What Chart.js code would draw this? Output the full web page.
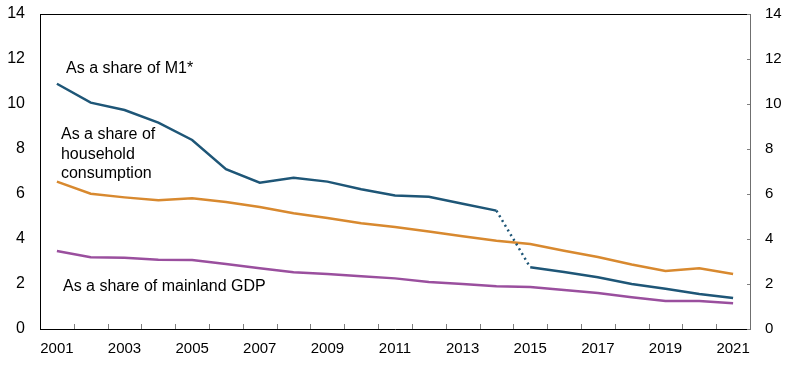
<!DOCTYPE html>
<html>
<head>
<meta charset="utf-8">
<script src="https://cdn.jsdelivr.net/npm/chart.js@4"></script>
<style>
    html, body { margin: 0; padding: 0; background: #ffffff; }
    #wrap { width: 797px; height: 365px; position: relative; }
</style>
</head>
<body>
<div id="wrap"><canvas id="cashChart"></canvas></div>
<script>
// Data
const years = ['2001', '2002', '2003', '2004', '2005', '2006', '2007', '2008', '2009', '2010', '2011',
    '2012', '2013', '2014', '2015', '2016', '2017', '2018', '2019', '2020', '2021'];
const shareOfM1 = [10.9, 10.06, 9.73, 9.17, 8.4, 7.1, 6.5, 6.72, 6.55, 6.21, 5.93,
    5.88, 5.57, 5.26, 2.74, 2.53, 2.3, 2.0, 1.79, 1.56, 1.38];
const shareOfConsumption = [6.55, 6.01, 5.85, 5.72, 5.81, 5.64, 5.42, 5.14, 4.93, 4.7, 4.53,
    4.33, 4.12, 3.92, 3.78, 3.48, 3.2, 2.87, 2.58, 2.7, 2.44];
const shareOfGdp = [3.47, 3.19, 3.17, 3.08, 3.07, 2.89, 2.7, 2.52, 2.44, 2.34, 2.25,
    2.09, 2.0, 1.9, 1.87, 1.73, 1.6, 1.41, 1.24, 1.24, 1.14];
const yTicks = [0, 2, 4, 6, 8, 10, 12, 14];
// break in the M1 series (dotted between these two points)
const m1BreakIndex = 13;

// Text labels placed in data units (category index, value)
const seriesLabels = [
    { lines: ['As a share of M1*'], x: 0.27, y: 11.56 },
    { lines: ['As a share of', 'household', 'consumption'], x: 0.12, y: 8.62 },
    { lines: ['As a share of mainland GDP'], x: 0.18, y: 1.88 }
];

const blue = '#1e5677';
const orange = '#d8892f';
const purple = '#9a4f9e';

// draws the top border, the text labels and the small inward tick marks
const extrasPlugin = {
    id: 'extras',
    afterDatasetsDraw(chart) {
        const ctx = chart.ctx;
        const x = chart.scales.x;
        const y = chart.scales.y;
        const area = chart.chartArea;

        ctx.save();
        // top border of the plot box
        ctx.strokeStyle = '#000000';
        ctx.lineWidth = 1;
        ctx.beginPath();
        ctx.moveTo(area.left, Math.round(area.top) + 0.5);
        ctx.lineTo(area.right, Math.round(area.top) + 0.5);
        ctx.stroke();

        // inward tick marks on the bottom axis, between categories
        const half = (x.getPixelForValue(1) - x.getPixelForValue(0)) / 2;
        ctx.strokeStyle = '#7f7f7f';
        ctx.beginPath();
        for (let i = 1; i < years.length; i++) {
            const px = Math.round(x.getPixelForValue(i) - half) + 0.5;
            ctx.moveTo(px, area.bottom);
            ctx.lineTo(px, area.bottom - 5);
        }
        // inward tick marks on the right axis
        yTicks.forEach(v => {
            const py = Math.round(y.getPixelForValue(v)) + 0.5;
            ctx.moveTo(area.right, py);
            ctx.lineTo(area.right - 3, py);
        });
        ctx.stroke();

        // series labels
        ctx.fillStyle = '#000000';
        ctx.font = '16px "Liberation Sans", Arial, sans-serif';
        ctx.textAlign = 'left';
        ctx.textBaseline = 'middle';
        seriesLabels.forEach(lbl => {
            const px = x.getPixelForValue(lbl.x);
            const py = y.getPixelForValue(lbl.y);
            lbl.lines.forEach((line, i) => {
                ctx.fillText(line, px, py + i * 19.5);
            });
        });
        ctx.restore();
    }
};

new Chart(document.getElementById('cashChart'), {
    type: 'line',
    data: {
        labels: years,
        datasets: [
            {
                label: 'As a share of M1*',
                data: shareOfM1,
                borderColor: blue,
                borderWidth: 2.5,
                pointRadius: 0,
                tension: 0,
                segment: {
                    borderDash: ctx => ctx.p0DataIndex === m1BreakIndex ? [2, 3.5] : undefined
                }
            },
            {
                label: 'As a share of household consumption',
                data: shareOfConsumption,
                borderColor: orange,
                borderWidth: 2.5,
                pointRadius: 0,
                tension: 0
            },
            {
                label: 'As a share of mainland GDP',
                data: shareOfGdp,
                borderColor: purple,
                borderWidth: 2.5,
                pointRadius: 0,
                tension: 0
            }
        ]
    },
    options: {
        responsive: true,
        maintainAspectRatio: false,
        animation: false,
        layout: { padding: { top: 14, left: 0, right: 0, bottom: 0 } },
        plugins: {
            legend: { display: false },
            tooltip: { enabled: false }
        },
        scales: {
            x: {
                type: 'category',
                offset: true,
                grid: { display: false },
                border: { display: true, color: '#000000', width: 1 },
                ticks: {
                    autoSkip: false,
                    maxRotation: 0,
                    padding: 3,
                    color: '#000000',
                    font: { family: '"Liberation Sans", Arial, sans-serif', size: 15 },
                    callback: (val, i) => (i % 2 === 0 ? years[i] : '')
                },
                afterFit: scale => { scale.height = 36; }
            },
            y: {
                position: 'left',
                min: 0,
                max: 14,
                grid: { display: false },
                border: { display: true, color: '#000000', width: 1 },
                afterBuildTicks: scale => { scale.ticks = yTicks.map(v => ({ value: v })); },
                ticks: {
                    padding: 7,
                    color: '#000000',
                    font: { family: '"Liberation Sans", Arial, sans-serif', size: 16 }
                },
                afterFit: scale => { scale.width = 40; scale.paddingTop = 0; scale.paddingBottom = 0; }
            },
            yRight: {
                position: 'right',
                min: 0,
                max: 14,
                grid: { display: false },
                border: { display: true, color: '#6f6f6f', width: 1 },
                afterBuildTicks: scale => { scale.ticks = yTicks.map(v => ({ value: v })); },
                ticks: {
                    padding: 7,
                    color: '#000000',
                    font: { family: '"Liberation Sans", Arial, sans-serif', size: 15 }
                },
                afterFit: scale => { scale.width = 47; scale.paddingTop = 0; scale.paddingBottom = 0; }
            }
        }
    },
    plugins: [extrasPlugin]
});
</script>
</body>
</html>
